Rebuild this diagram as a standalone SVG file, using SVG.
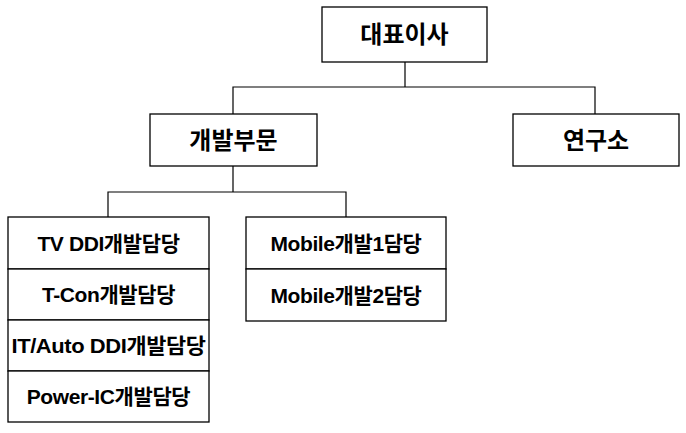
<svg xmlns="http://www.w3.org/2000/svg" width="686" height="433" viewBox="0 0 686 433">
<style>
rect{fill:#fff;stroke:#000;stroke-width:1.3}
text{font-family:"Liberation Sans","Noto Sans CJK KR",sans-serif;font-weight:bold;font-size:21px;letter-spacing:-0.4px;text-anchor:middle;dominant-baseline:central;fill:#000}
.big{font-size:24px;letter-spacing:0}
#connectors path{fill:none;stroke:#000;stroke-width:1.2}
</style>
<rect x="0" y="0" width="686" height="433" style="stroke:none"/>
<g id="connectors">
<path d="M405 62V87M233 114V87H595V114"/>
<path d="M233 166V192M108 217V192H346V217"/>
</g>
<g id="ceo"><rect x="322" y="7" width="165" height="55"/><text class="big" x="404.5" y="34.5">대표이사</text></g>
<g id="dev"><rect x="150" y="114" width="167" height="52"/><text class="big" x="233.5" y="140">개발부문</text></g>
<g id="lab"><rect x="513" y="114" width="166" height="52"/><text class="big" x="596" y="140">연구소</text></g>
<g id="tv"><rect x="8" y="217" width="201" height="52"/><text x="108.5" y="243">TV DDI개발담당</text></g>
<g id="tcon"><rect x="8" y="269" width="201" height="51"/><text x="108.5" y="294.5">T-Con개발담당</text></g>
<g id="itauto"><rect x="8" y="320" width="201" height="51"/><text x="108.5" y="345.5" textLength="194" lengthAdjust="spacingAndGlyphs">IT/Auto DDI개발담당</text></g>
<g id="power"><rect x="8" y="371" width="201" height="51"/><text x="108.5" y="396.5">Power-IC개발담당</text></g>
<g id="mob1"><rect x="246" y="217" width="200" height="52"/><text x="346" y="243">Mobile개발1담당</text></g>
<g id="mob2"><rect x="246" y="269" width="200" height="52"/><text x="346" y="295">Mobile개발2담당</text></g>
</svg>
